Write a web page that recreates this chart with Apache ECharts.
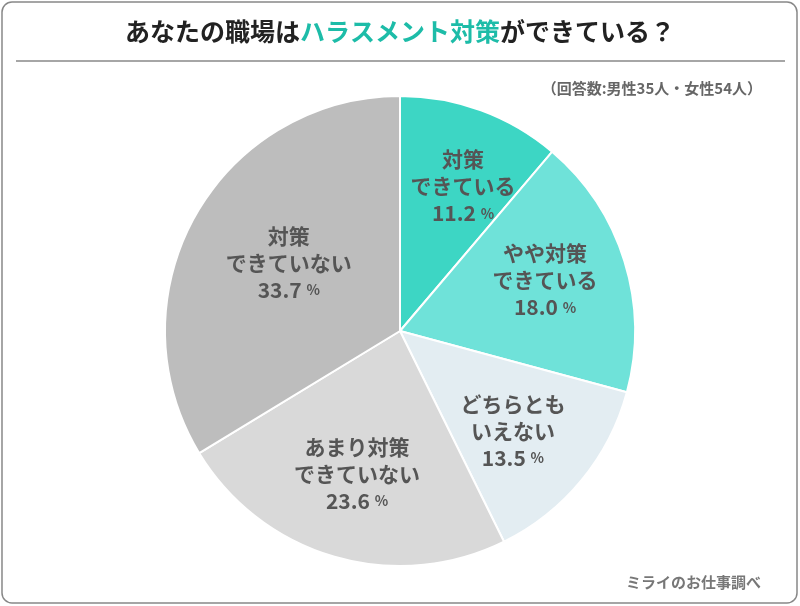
<!DOCTYPE html>
<html><head><meta charset="utf-8">
<script src="https://cdn.jsdelivr.net/npm/echarts@6/dist/echarts.min.js"></script>
<style>html,body{margin:0;padding:0;background:#fff;}#c{width:800px;height:606px;}</style>
</head><body><div id="c"></div>
<script>
const categories = ['対策\nできている', 'やや対策\nできている', 'どちらとも\nいえない', 'あまり対策\nできていない', '対策\nできていない'];
const values = [11.2, 18.0, 13.5, 23.6, 33.7];
const colors = ['#3dd6c4', '#6fe2d9', '#e3edf2', '#d9d9d9', '#bdbdbd'];
const labelOffsets = [[10, 0], [-2, -5], [-6, 2], [0, -5], [23, 7]];
const font = '"Noto Sans CJK JP", "Noto Sans", sans-serif';
const chart = echarts.init(document.getElementById('c'));
const pieData = values.map((v, i) => ({ name: categories[i], value: v, itemStyle: { color: colors[i] } }));
chart.setOption({
  animation: false,
  title: [
    { text: 'あなたの職場は{t|ハラスメント対策}ができている？', left: 'center', top: 14,
      textStyle: { fontFamily: font, fontSize: 25, fontWeight: 'bold', color: '#222',
        rich: { t: { fontFamily: font, fontSize: 25, fontWeight: 'bold', color: '#1dbca8' } } } },
    { text: '（回答数:男性35人・女性54人）', right: 33, top: 76,
      textStyle: { fontFamily: font, fontSize: 15, fontWeight: 'bold', color: '#666' } },
    { text: 'ミライのお仕事調べ', right: 34, top: 570,
      textStyle: { fontFamily: font, fontSize: 15, fontWeight: 'bold', color: '#777' } }
  ],
  graphic: [
    { type: 'rect', shape: { x: 2, y: 2, width: 795, height: 601, r: 10 }, style: { fill: 'none', stroke: '#888', lineWidth: 1.5 }, silent: true },
    { type: 'line', shape: { x1: 16, y1: 61, x2: 785, y2: 61 }, style: { stroke: '#888', lineWidth: 1.5 }, silent: true }
  ],
  series: [
    { type: 'pie', center: [400, 331], radius: [0, 235], startAngle: 90, clockwise: true,
      silent: true, label: { show: false }, labelLine: { show: false },
      itemStyle: { borderColor: '#fff', borderWidth: 2 }, data: pieData },
    { type: 'pie', center: [400, 331], radius: [100, 202], startAngle: 90, clockwise: true,
      silent: true, itemStyle: { color: 'rgba(0,0,0,0)' }, labelLine: { show: false },
      label: { show: true, position: 'inside', fontFamily: font, fontSize: 21, fontWeight: 'bold', color: '#555', lineHeight: 27,
        formatter: p => p.name + '\n' + p.value.toFixed(1) + ' {p|%}',
        rich: { p: { fontFamily: font, fontSize: 14, fontWeight: 'bold', color: '#555' } } },
      data: values.map((v, i) => ({ name: categories[i], value: v, label: { offset: labelOffsets[i] } })) }
  ]
});
</script></body></html>
